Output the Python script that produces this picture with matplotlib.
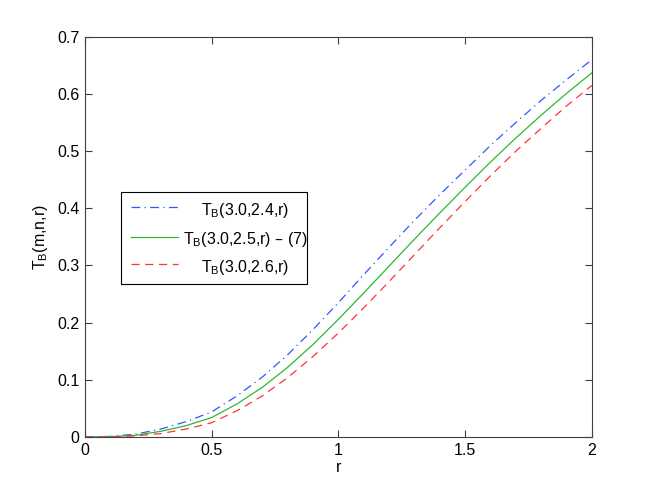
import matplotlib
matplotlib.use("Agg")
import matplotlib.pyplot as plt
from matplotlib.lines import Line2D
from matplotlib.patches import Rectangle

plt.rcParams["font.family"] = ["Liberation Sans", "DejaVu Sans"]
plt.rcParams["mathtext.default"] = "regular"
plt.rcParams["font.size"] = 11.5

# values
r = [0.0, 0.1, 0.2, 0.3, 0.4, 0.5, 0.6, 0.7, 0.8, 0.9, 1.0,
     1.1, 1.2, 1.3, 1.4, 1.5, 1.6, 1.7, 1.8, 1.9, 2.0]
t_24 = [0.0, 0.001, 0.005, 0.014, 0.027, 0.044, 0.072, 0.105, 0.144, 0.188, 0.235,
        0.284, 0.332, 0.379, 0.424, 0.467, 0.510, 0.550, 0.589, 0.625, 0.660]
t_25 = [0.0, 0.0005, 0.003, 0.010, 0.020, 0.034, 0.058, 0.087, 0.122, 0.162, 0.206,
        0.252, 0.299, 0.346, 0.392, 0.437, 0.481, 0.523, 0.563, 0.601, 0.637]
t_26 = [0.0, 0.0002, 0.002, 0.006, 0.014, 0.025, 0.046, 0.072, 0.104, 0.141, 0.182,
        0.226, 0.272, 0.319, 0.366, 0.412, 0.457, 0.500, 0.540, 0.579, 0.615]

labels = ["T$_B$(3.0,2.4,r)", "T$_B$(3.0,2.5,r) \u2013 (7)", "T$_B$(3.0,2.6,r)"]
colors = ["#3355ff", "#2db82d", "#ff3333"]
styles = [(0, (7, 3.5, 1, 3.5)), "-", (0, (6.5, 4.5))]

xticks = [0, 0.5, 1, 1.5, 2]
xticklabels = ["0", "0.5", "1", "1.5", "2"]
yticks = [0, 0.1, 0.2, 0.3, 0.4, 0.5, 0.6, 0.7]
yticklabels = ["0", "0.1", "0.2", "0.3", "0.4", "0.5", "0.6", "0.7"]

fig = plt.figure(figsize=(6.54, 4.91), dpi=100)
ax = fig.add_axes([0.13, 0.11, 0.775, 0.815])

for y, c, ls in zip([t_24, t_25, t_26], colors, styles):
    ax.plot(r, y, color=c, linestyle=ls, linewidth=0.9)

ax.set_xlim(0, 2)
ax.set_ylim(0, 0.7)
ax.set_xticks(xticks)
ax.set_xticklabels(xticklabels)
ax.set_yticks(yticks)
ax.set_yticklabels(yticklabels)
ax.tick_params(direction="in", top=True, right=True, length=5, width=0.8,
               color="#404040", pad=4)
for s in ax.spines.values():
    s.set_color("#404040")
    s.set_linewidth(0.8)

ax.set_xlabel("r", labelpad=2)
ax.set_ylabel("T$_B$(m,n,r)", labelpad=5)

# legend box drawn the way the reference has it (labels centred)
ax.add_patch(Rectangle((0.071, 0.383), 0.367, 0.229, transform=ax.transAxes,
                       facecolor="white", edgecolor="black", linewidth=0.8, zorder=5))
rows = [0.574, 0.501, 0.432]
for yy, lab, c, ls in zip(rows, labels, colors, styles):
    ax.add_line(Line2D([0.091, 0.184], [yy, yy], transform=ax.transAxes,
                       color=c, linestyle=ls, linewidth=0.9, zorder=6))
    ax.text(0.316, yy - 0.008, lab, transform=ax.transAxes, ha="center", va="center",
            zorder=6)

fig.savefig("out.png", dpi=100)
